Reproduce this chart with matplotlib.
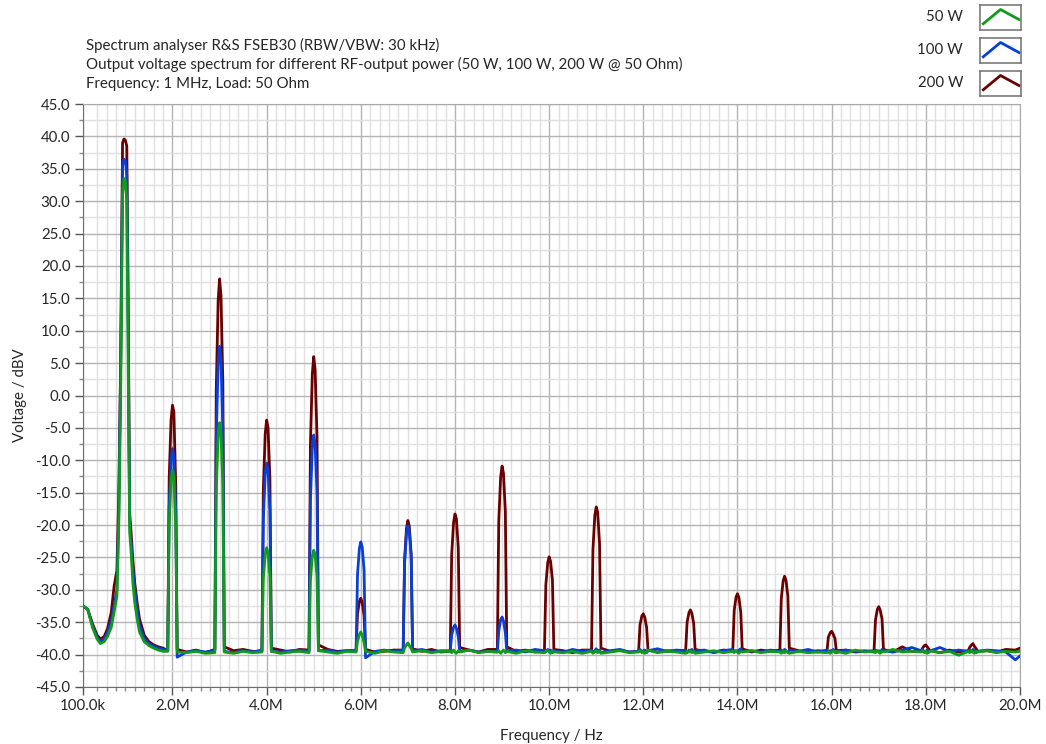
import matplotlib
matplotlib.use("Agg")
import matplotlib.pyplot as plt
from matplotlib.ticker import FixedLocator, MultipleLocator, FuncFormatter

plt.rcParams['font.family'] = ['Lato', 'DejaVu Sans']

# ---- data (frequency in MHz, level in dBV) ----
series_names = ["50 W", "100 W", "200 W"]
series_colors = ["#119a1c", "#0a3fd6", "#6b0000"]

# section below the 2nd harmonic (sampled by hand)
low_freq = [0.1, 0.2, 0.3, 0.4, 0.47, 0.55, 0.62, 0.7, 0.76, 0.82, 0.86, 0.9,
            0.94, 0.97, 1.0, 1.03, 1.06, 1.09, 1.12, 1.16, 1.2, 1.25, 1.3,
            1.4, 1.5, 1.6, 1.7, 1.8]
low_200 = [-32.5, -33.0, -35.2, -37.0, -37.6, -37.2, -36.0, -33.5, -29.5,
           -27.0, -15.0, 5.0, 39.0, 39.6, 39.4, 38.5, 15.0, -18.0, -21.0,
           -25.5, -29.0, -32.0, -34.5, -37.0, -38.0, -38.5, -38.8, -39.0]
low_100 = [-32.5, -33.0, -35.5, -37.3, -38.0, -37.6, -36.6, -34.8, -32.5,
           -30.0, -18.0, 4.5, 35.5, 36.5, 36.2, 34.0, 10.0, -19.0, -22.5,
           -27.0, -30.0, -33.0, -35.5, -37.5, -38.3, -38.7, -39.0, -39.2]
low_50 = [-32.5, -33.0, -35.8, -37.6, -38.3, -38.0, -37.2, -35.8, -33.5,
          -31.0, -20.0, 0.0, 31.0, 33.5, 33.2, 30.0, 5.0, -21.0, -24.0,
          -29.0, -32.0, -34.5, -36.5, -38.0, -38.6, -39.0, -39.3, -39.5]

# one row per harmonic 2..19 MHz, sampled at these offsets around each one
harmonics = list(range(2, 20))
block_offsets = [-0.1, -0.07, -0.03, 0.0, 0.03, 0.07, 0.1, 0.3, 0.5, 0.7]

rows_200 = [
    [-39.4, -12.8, -3.8, -1.5, -2.5, -14.0, -39.2, -39.6, -39.3, -39.7],
    [-39.2, 0.8, 14.6, 18.0, 15.5, 2.0, -38.8, -39.4, -39.2, -39.5],
    [-39.5, -14.4, -5.9, -3.8, -5.0, -13.0, -39.0, -39.3, -39.6, -39.2],
    [-39.3, -7.6, 3.3, 6.0, 4.0, -6.5, -38.5, -39.2, -39.5, -39.4],
    [-39.4, -33.7, -31.8, -31.3, -32.0, -34.0, -39.2, -39.6, -39.5, -39.3],
    [-39.3, -25.3, -20.5, -19.3, -20.2, -24.5, -39.1, -39.5, -39.2, -39.6],
    [-39.5, -24.6, -19.6, -18.3, -19.0, -23.5, -38.9, -39.3, -39.6, -39.2],
    [-39.2, -19.4, -12.6, -10.9, -12.0, -18.0, -38.8, -39.5, -39.3, -39.6],
    [-39.4, -29.2, -25.8, -24.9, -25.6, -28.5, -39.2, -39.4, -39.7, -39.3],
    [-39.3, -23.8, -18.5, -17.2, -18.0, -22.8, -39.0, -39.5, -39.3, -39.6],
    [-39.5, -35.4, -34.0, -33.7, -34.2, -35.8, -39.3, -39.6, -39.4, -39.5],
    [-39.3, -35.0, -33.5, -33.1, -33.6, -35.2, -39.2, -39.5, -39.6, -39.3],
    [-39.4, -33.2, -31.1, -30.6, -31.2, -33.5, -39.1, -39.6, -39.3, -39.5],
    [-39.3, -31.4, -28.6, -27.9, -28.5, -31.0, -39.0, -39.4, -39.6, -39.4],
    [-39.5, -37.3, -36.6, -36.4, -36.8, -37.5, -39.4, -39.3, -39.6, -39.5],
    [-39.4, -34.7, -33.0, -32.6, -33.1, -34.5, -39.2, -39.6, -38.8, -39.5],
    [-39.5, -39.0, -38.6, -38.5, -38.8, -39.2, -39.4, -39.7, -39.3, -39.6],
    [-39.4, -38.9, -38.5, -38.3, -38.7, -39.1, -39.5, -39.4, -39.6, -39.2],
]
rows_100 = [
    [-39.3, -17.5, -10.1, -8.2, -9.5, -18.0, -40.4, -39.6, -39.4, -39.6],
    [-39.4, -6.5, 4.8, 7.6, 5.5, -5.0, -39.5, -39.7, -39.4, -39.6],
    [-39.3, -19.1, -12.1, -10.4, -11.5, -18.0, -39.5, -39.6, -39.4, -39.3],
    [-39.5, -16.1, -8.1, -6.1, -7.5, -15.0, -39.4, -39.3, -39.6, -39.4],
    [-39.4, -27.6, -23.6, -22.6, -23.4, -27.0, -40.5, -39.5, -39.3, -39.5],
    [-39.3, -25.9, -21.3, -20.1, -21.0, -25.0, -39.4, -39.2, -39.6, -39.4],
    [-39.4, -37.0, -35.8, -35.4, -35.9, -37.2, -39.5, -39.3, -39.6, -39.5],
    [-39.6, -36.4, -34.6, -34.2, -34.8, -36.6, -39.4, -39.3, -39.6, -39.2],
    [-39.4, -39.6, -39.2, -39.5, -39.3, -39.7, -39.4, -39.6, -39.2, -39.5],
    [-39.3, -39.6, -39.4, -39.1, -39.5, -39.3, -39.7, -39.4, -39.2, -39.6],
    [-39.5, -39.2, -39.6, -39.4, -39.3, -39.7, -39.4, -39.1, -39.5, -39.3],
    [-39.4, -39.7, -39.3, -39.5, -39.2, -39.6, -39.4, -39.3, -39.7, -39.4],
    [-39.2, -39.5, -39.4, -39.6, -39.3, -39.1, -39.5, -39.4, -39.6, -39.3],
    [-39.5, -39.3, -39.6, -39.2, -39.4, -39.7, -39.3, -39.5, -39.2, -39.6],
    [-39.3, -39.6, -39.4, -39.5, -39.2, -39.4, -39.7, -39.3, -39.5, -39.4],
    [-39.6, -39.3, -39.5, -39.4, -39.7, -39.2, -39.4, -39.6, -39.3, -38.9],
    [-39.4, -39.2, -39.6, -39.5, -39.3, -39.6, -39.4, -38.9, -39.5, -39.3],
    [-39.5, -39.3, -39.6, -39.2, -39.4, -39.7, -39.5, -39.3, -39.4, -39.6],
]
rows_50 = [
    [-39.5, -19.9, -13.2, -11.5, -12.8, -20.5, -39.6, -39.7, -39.5, -39.8],
    [-39.7, -14.8, -6.3, -4.2, -5.8, -14.0, -39.6, -39.8, -39.5, -39.7],
    [-39.6, -28.3, -24.5, -23.5, -24.3, -28.0, -39.5, -39.8, -39.6, -39.5],
    [-39.7, -28.6, -24.8, -23.9, -24.6, -28.0, -39.4, -39.6, -39.8, -39.5],
    [-39.6, -38.0, -36.9, -36.5, -37.0, -38.2, -39.5, -39.8, -39.4, -39.6],
    [-39.7, -39.0, -38.5, -38.2, -38.6, -39.1, -39.6, -39.4, -39.7, -39.5],
    [-39.5, -39.7, -39.3, -39.6, -39.8, -39.4, -39.6, -39.3, -39.7, -39.5],
    [-39.6, -39.4, -39.8, -39.5, -39.3, -39.7, -39.5, -39.8, -39.4, -39.6],
    [-39.7, -39.5, -39.3, -39.6, -39.8, -39.4, -39.6, -39.7, -39.5, -39.8],
    [-39.5, -39.8, -39.6, -39.4, -39.7, -39.5, -39.8, -39.6, -39.4, -39.7],
    [-39.6, -39.4, -39.7, -39.5, -39.8, -39.6, -39.3, -39.7, -39.5, -39.6],
    [-39.8, -39.5, -39.6, -39.4, -39.7, -39.5, -39.8, -39.6, -39.4, -39.7],
    [-39.5, -39.7, -39.4, -39.6, -39.8, -39.5, -39.6, -39.4, -39.7, -39.5],
    [-39.6, -39.8, -39.5, -39.7, -39.4, -39.6, -39.8, -39.5, -39.7, -39.6],
    [-39.7, -39.5, -39.8, -39.6, -39.4, -39.7, -39.5, -39.8, -39.3, -39.6],
    [-39.5, -39.7, -39.4, -39.6, -39.8, -39.5, -39.6, -39.2, -39.6, -39.5],
    [-39.6, -39.4, -39.7, -39.5, -39.8, -39.6, -39.4, -39.7, -39.5, -40.1],
    [-39.5, -39.7, -39.4, -39.6, -39.8, -39.5, -39.6, -39.4, -39.7, -39.5],
]

tail_freq = [19.9, 20.0]
tail_200 = [-39.3, -39.0]
tail_100 = [-40.8, -40.2]
tail_50 = [-39.6, -39.5]

x_tick_pos = [0.1, 2, 4, 6, 8, 10, 12, 14, 16, 18, 20]
x_tick_labels = ["100.0k", "2.0M", "4.0M", "6.0M", "8.0M", "10.0M", "12.0M",
                 "14.0M", "16.0M", "18.0M", "20.0M"]

title_lines = [
    "Spectrum analyser R&S FSEB30 (RBW/VBW: 30 kHz)",
    "Output voltage spectrum for different RF-output power (50 W, 100 W, 200 W @ 50 Ohm)",
    "Frequency: 1 MHz, Load: 50 Ohm",
]


def build(low, rows, tail):
    f = list(low_freq)
    v = list(low)
    for h, row in zip(harmonics, rows):
        f += [h + o for o in block_offsets]
        v += row
    return f + tail_freq, v + tail


traces = {
    "50 W": build(low_50, rows_50, tail_50),
    "100 W": build(low_100, rows_100, tail_100),
    "200 W": build(low_200, rows_200, tail_200),
}

W, H = 1046, 744
fig = plt.figure(figsize=(W / 100, H / 100), dpi=100)
ax = fig.add_axes([83 / W, 1 - 687 / H, (1020 - 83) / W, (687 - 104) / H])

# draw heaviest first so the green trace ends up on top
for name in ["200 W", "100 W", "50 W"]:
    f, v = traces[name]
    col = series_colors[series_names.index(name)]
    ax.plot(f, v, color=col, lw=2.0, zorder=3)

ax.set_xlim(0.1, 20)
ax.set_ylim(-45, 45)
ax.xaxis.set_major_locator(FixedLocator(x_tick_pos))
ax.set_xticklabels(x_tick_labels)
ax.xaxis.set_minor_locator(FixedLocator([0.2 * k for k in range(2, 100)]))
ax.yaxis.set_major_locator(MultipleLocator(5))
ax.yaxis.set_minor_locator(MultipleLocator(2.5))
ax.yaxis.set_major_formatter(FuncFormatter(lambda y, p: "%.1f" % y))

ax.grid(True, which="major", color="#b4b4b4", lw=1.0, zorder=1)
ax.grid(True, which="minor", color="#e0e0e0", lw=1.0, zorder=0)
ax.set_axisbelow(True)

for s in ["left", "bottom"]:
    ax.spines[s].set_color("#6e6e6e")
for s in ["top", "right"]:
    ax.spines[s].set_color("#a9a9a9")

ax.tick_params(which="major", direction="out", length=6, width=1,
               color="#555555", labelsize=10.8, labelcolor="#262626", pad=3)
ax.tick_params(which="minor", direction="out", length=3, width=1,
               color="#8a8a8a")

ax.set_xlabel("Frequency / Hz", fontsize=10.8, color="#262626", labelpad=11)
ax.set_ylabel("Voltage / dBV", fontsize=10.8, color="#262626", labelpad=6)

for i, line in enumerate(title_lines):
    fig.text(86 / W, 1 - (45 + 19.5 * i) / H, line, fontsize=10.8,
             color="#262626", va="center", ha="left")

# legend: label + small boxed chevron icon
for i, name in enumerate(series_names):
    yc = 17 + 33 * i
    fig.text(963 / W, 1 - yc / H, name, fontsize=10.8, color="#262626",
             ha="right", va="center")
    lax = fig.add_axes([980 / W, 1 - (yc + 13) / H, 41 / W, 25 / H])
    lax.set_xlim(0, 1)
    lax.set_ylim(0, 1)
    lax.set_xticks([])
    lax.set_yticks([])
    for s in lax.spines.values():
        s.set_color("#7a7a7a")
        s.set_linewidth(1.2)
    lax.plot([0.08, 0.5, 0.95], [0.25, 0.82, 0.42],
             color=series_colors[i], lw=2.0)

fig.savefig("out.png", dpi=100)
